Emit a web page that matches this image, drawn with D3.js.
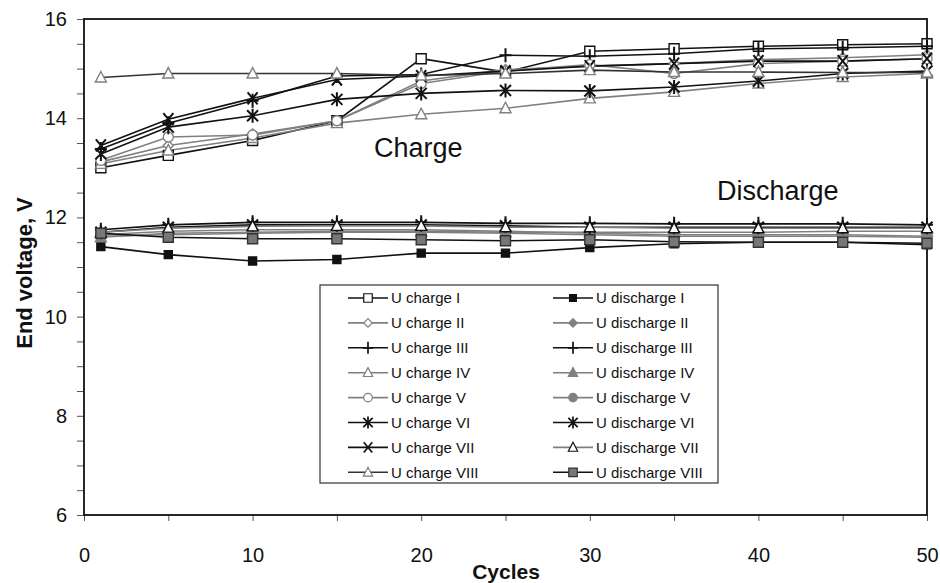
<!DOCTYPE html>
<html><head><meta charset="utf-8">
<script src="https://cdn.jsdelivr.net/npm/d3@7"></script>
<style>body{margin:0;background:#fff}text{font-family:"Liberation Sans",Arial,sans-serif}</style>
</head><body><svg id="c" width="940" height="583"></svg>
<script>
const cycles = [1,5,10,15,20,25,30,35,40,45,50];
const xTicks = [0,10,20,30,40,50];
const yTicks = [6,8,10,12,14,16];

const chargeI    = [13.0,13.25,13.55,13.95,15.2,14.93,15.35,15.4,15.45,15.48,15.5];
const chargeII   = [13.12,13.45,13.68,13.95,14.75,14.98,15.05,15.1,15.18,15.22,15.28];
const chargeIII  = [13.38,13.9,14.35,14.85,14.88,15.27,15.25,15.3,15.4,15.42,15.45];
const chargeIV   = [13.08,13.35,13.6,13.9,14.08,14.2,14.4,14.53,14.7,14.83,14.9];
const chargeV    = [13.15,13.62,13.66,13.95,14.7,14.95,15.08,14.9,15.1,15.15,15.2];
const chargeVI   = [13.28,13.82,14.05,14.38,14.5,14.56,14.55,14.63,14.75,14.9,14.95];
const chargeVII  = [13.45,13.98,14.4,14.78,14.85,14.95,15.05,15.1,15.15,15.15,15.2];
const chargeVIII = [14.82,14.9,14.9,14.9,14.86,14.9,14.97,14.93,14.93,14.92,14.92];

const dischargeI    = [11.41,11.25,11.12,11.15,11.28,11.28,11.39,11.47,11.5,11.5,11.45];
const dischargeII   = [11.65,11.72,11.75,11.75,11.75,11.72,11.68,11.65,11.65,11.65,11.62];
const dischargeIII  = [11.75,11.85,11.9,11.9,11.9,11.88,11.88,11.87,11.87,11.87,11.85];
const dischargeIV   = [11.6,11.68,11.7,11.72,11.72,11.7,11.7,11.7,11.7,11.72,11.72];
const dischargeV    = [11.62,11.65,11.68,11.7,11.7,11.68,11.65,11.62,11.62,11.62,11.6];
const dischargeVI   = [11.7,11.8,11.85,11.85,11.85,11.83,11.8,11.8,11.8,11.8,11.8];
const dischargeVII  = [11.7,11.78,11.82,11.83,11.83,11.8,11.8,11.78,11.78,11.78,11.78];
const dischargeVIII = [11.68,11.6,11.57,11.57,11.55,11.53,11.55,11.51,11.5,11.5,11.48];

const BLK = "#111", GRY = "#808080";
const series = [
  {name:"U charge I", v:chargeI, line:BLK, m:"square", fill:"#fff", stroke:BLK},
  {name:"U charge II", v:chargeII, line:GRY, m:"diamond", fill:"#fff", stroke:GRY},
  {name:"U charge III", v:chargeIII, line:BLK, m:"plus", fill:"none", stroke:BLK},
  {name:"U charge IV", v:chargeIV, line:GRY, m:"triangle", fill:"#fff", stroke:GRY},
  {name:"U charge V", v:chargeV, line:GRY, m:"circle", fill:"#fff", stroke:GRY},
  {name:"U charge VI", v:chargeVI, line:BLK, m:"asterisk", fill:"none", stroke:BLK},
  {name:"U charge VII", v:chargeVII, line:BLK, m:"x", fill:"none", stroke:BLK},
  {name:"U charge VIII", v:chargeVIII, line:"#333", m:"triangle", fill:"#fff", stroke:GRY},
  {name:"U discharge I", v:dischargeI, line:BLK, m:"smallsquare", fill:BLK, stroke:BLK},
  {name:"U discharge II", v:dischargeII, line:GRY, m:"diamond", fill:GRY, stroke:GRY},
  {name:"U discharge III", v:dischargeIII, line:BLK, m:"plus", fill:"none", stroke:BLK},
  {name:"U discharge IV", v:dischargeIV, line:GRY, m:"triangle", fill:GRY, stroke:GRY},
  {name:"U discharge V", v:dischargeV, line:GRY, m:"circle", fill:GRY, stroke:GRY},
  {name:"U discharge VI", v:dischargeVI, line:BLK, m:"asterisk", fill:"none", stroke:BLK},
  {name:"U discharge VII", v:dischargeVII, line:GRY, m:"triangle", fill:"#fff", stroke:BLK},
  {name:"U discharge VIII", v:dischargeVIII, line:BLK, m:"square", fill:"#777", stroke:"#333"}
];

const markerPath = {
  square:"M-5,-5h10v10h-10z",
  smallsquare:"M-4,-4h8v8h-8z",
  diamond:"M0,-5L5,0L0,5L-5,0Z",
  plus:"M0,-7V7M-6,0H6",
  triangle:"M0,-6L5.5,4.5H-5.5Z",
  circle:"M5,0A5,5 0 1,1 -5,0A5,5 0 1,1 5,0Z",
  asterisk:"M0,-7V7M-5.5,-5.5L5.5,5.5M-5.5,5.5L5.5,-5.5",
  x:"M-5,-6L5,6M-5,6L5,-6"
};

const svg = d3.select("#c");
const L = 84, R = 927, T = 19, B = 515;
const x = d3.scaleLinear().domain([0,50]).range([L,R]);
const y = d3.scaleLinear().domain([6,16]).range([B,T]);

// axes
const xAx = svg.append("g").attr("transform",`translate(0,${B})`)
  .call(d3.axisBottom(x).tickValues(d3.range(0,51,5)).tickSize(6).tickPadding(0).tickFormat(d => xTicks.includes(d) ? d : ""));
const yAx = svg.append("g").attr("transform",`translate(${L},0)`)
  .call(d3.axisLeft(y).tickValues(d3.range(6,16.01,0.5)).tickSize(7).tickPadding(10).tickFormat(d => yTicks.includes(d) ? d : ""));
[xAx,yAx].forEach(g=>{
  g.select(".domain").remove();
  g.selectAll("line").attr("stroke","#555").attr("stroke-width",1);
  g.selectAll("text").attr("font-size",20).attr("fill","#111").style("font-family","Liberation Sans, Arial, sans-serif");
});
xAx.selectAll("text").attr("dy",null).attr("y",47);

svg.append("rect").attr("x",L).attr("y",T).attr("width",R-L).attr("height",B-T)
  .attr("fill","none").attr("stroke","#111").attr("stroke-width",1.8);

const line = d3.line().x((d,i)=>x(cycles[i])).y(d=>y(d));
const plot = svg.append("g");
const order = [...series.slice(8), ...series.slice(0,8)];
order.forEach(s=>{
  plot.append("path").attr("d",line(s.v)).attr("fill","none").attr("stroke",s.line).attr("stroke-width",1.6);
});
order.forEach(s=>{
  plot.selectAll(null).data(s.v).enter().append("path")
    .attr("d",markerPath[s.m])
    .attr("transform",(d,i)=>`translate(${x(cycles[i])},${y(d)})`)
    .attr("fill",s.fill).attr("stroke",s.stroke)
    .attr("stroke-width",(s.m==="asterisk"||s.m==="x"||s.m==="plus")?2:1.4);
});

// annotations
svg.append("text").attr("x",374).attr("y",157).attr("font-size",27).attr("fill","#111").text("Charge");
svg.append("text").attr("x",717).attr("y",200).attr("font-size",27).attr("fill","#111").text("Discharge");

// axis titles
svg.append("text").attr("x",506).attr("y",579).attr("text-anchor","middle").attr("font-size",21).attr("font-weight","bold").attr("fill","#111").text("Cycles");
svg.append("text").attr("transform","translate(32,273) rotate(-90)").attr("text-anchor","middle").attr("font-size",22).attr("font-weight","bold").attr("fill","#111").text("End voltage, V");

// legend
const lg = svg.append("g");
lg.append("rect").attr("x",320).attr("y",285).attr("width",398).attr("height",198)
  .attr("fill","#fff").attr("stroke","#333").attr("stroke-width",1.2);
series.forEach((s,i)=>{
  const col = i<8?0:1, row = i%8;
  const lx = col===0?348:553, ly = 298 + row*24.9;
  lg.append("line").attr("x1",lx).attr("x2",lx+40).attr("y1",ly).attr("y2",ly).attr("stroke",s.line).attr("stroke-width",1.6);
  lg.append("path").attr("d",markerPath[s.m]).attr("transform",`translate(${lx+20},${ly}) scale(0.85)`)
    .attr("fill",s.fill).attr("stroke",s.stroke).attr("stroke-width",(s.m==="asterisk"||s.m==="x"||s.m==="plus")?2:1.4);
  lg.append("text").attr("x",lx+43).attr("y",ly).attr("dy","0.36em").attr("font-size",15).attr("fill","#111").text(s.name);
});
</script></body></html>
